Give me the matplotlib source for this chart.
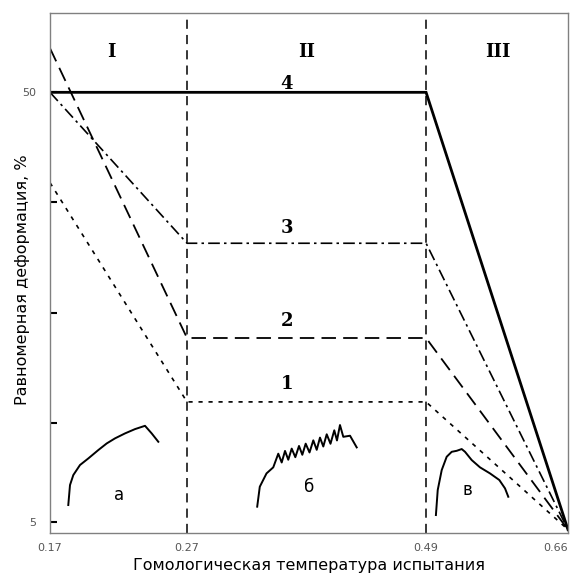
import matplotlib
matplotlib.use("Agg")
import matplotlib.pyplot as plt

# schematic axes: x runs 0..1 across the box, y in "levels" (4 = 50 %)
x_ticks = [0.0, 0.2645, 0.726, 1.0]
x_labels = ["0.17", "0.27", "0.49", "0.66"]
y_ticks = [0.1, 1, 2, 3, 4]
y_labels = ["5", "", "", "", "50"]

x_bounds = [0.2645, 0.726]

# four curves: left edge, end of region I, end of region II, right edge
curve_x = [0.0, 0.2645, 0.726, 1.0]
curve4 = [4.0, 4.0, 4.0, 0.03]
curve3 = [4.0, 2.63, 2.63, 0.03]
curve2 = [4.40, 1.77, 1.77, 0.03]
curve1 = [3.18, 1.19, 1.19, 0.03]

# stress-strain sketches
a_x = [0.0353, 0.0386, 0.045, 0.0579, 0.074, 0.0933, 0.1095, 0.1255, 0.1448, 0.1641, 0.1834, 0.1963, 0.2091]
a_y = [0.254, 0.435, 0.526, 0.617, 0.677, 0.753, 0.813, 0.859, 0.904, 0.943, 0.973, 0.904, 0.828]

b_x = [0.400, 0.405, 0.418, 0.431, 0.4407, 0.4473, 0.4537, 0.460, 0.4666, 0.4736, 0.4807, 0.4871,
       0.4936, 0.501, 0.5083, 0.5149, 0.5212, 0.5276, 0.5342, 0.5415, 0.5488, 0.554, 0.5598,
       0.5662, 0.5792, 0.5921]
b_y = [0.239, 0.420, 0.541, 0.596, 0.720, 0.640, 0.745, 0.665, 0.766, 0.688, 0.790, 0.710,
       0.811, 0.731, 0.841, 0.755, 0.866, 0.785, 0.896, 0.810, 0.932, 0.840, 0.980,
       0.873, 0.883, 0.777]

c_x = [0.745, 0.7485, 0.7562, 0.7658, 0.7755, 0.7851, 0.7948, 0.8012, 0.8141, 0.8301, 0.8494, 0.8674, 0.8784, 0.8847]
c_y = [0.163, 0.390, 0.571, 0.692, 0.737, 0.746, 0.762, 0.737, 0.662, 0.596, 0.541, 0.481, 0.405, 0.329]

fig = plt.figure(figsize=(5.75, 5.75), dpi=100)
ax = fig.add_axes([50 / 575, 42 / 575, 518 / 575, 520 / 575])
ax.set_xlim(0, 1)
ax.set_ylim(0, 4.72)

for xb in x_bounds:
    ax.axvline(xb, color="black", lw=1.1, dashes=(6, 4))

ax.plot(curve_x, curve4, color="black", lw=2.0, solid_joinstyle="miter")
ax.plot(curve_x, curve3, color="black", lw=1.2, dashes=(7, 2.5, 1.5, 2.5))
ax.plot(curve_x, curve2, color="black", lw=1.3, dashes=(8, 4))
ax.plot(curve_x, curve1, color="black", lw=1.2, dashes=(2.5, 3.5))

ax.plot(a_x, a_y, color="black", lw=1.4)
ax.plot(b_x, b_y, color="black", lw=1.4)
ax.plot(c_x, c_y, color="black", lw=1.4)

serif = dict(family="DejaVu Serif", fontweight="bold", fontsize=13, ha="center", va="center")
ax.text(0.4575, 4.08, "4", **serif)
ax.text(0.4575, 2.77, "3", **serif)
ax.text(0.4575, 1.92, "2", **serif)
ax.text(0.4575, 1.35, "1", **serif)
ax.text(0.118, 4.37, "I", **serif)
ax.text(0.496, 4.37, "II", **serif)
ax.text(0.865, 4.37, "III", **serif)

ax.text(0.133, 0.345, "а", fontsize=12, ha="center", va="center")
ax.text(0.500, 0.417, "б", fontsize=12, ha="center", va="center")
ax.text(0.805, 0.390, "в", fontsize=12, ha="center", va="center")

ax.set_xticks(x_ticks)
ax.set_xticklabels(x_labels)
ax.set_yticks(y_ticks)
ax.set_yticklabels(y_labels)
ax.tick_params(axis="x", length=0, labelsize=8, labelcolor="#555555", pad=7)
ax.tick_params(axis="y", direction="in", length=5, width=1.5, labelsize=8,
               labelcolor="#555555", pad=10)
ax.get_xticklabels()[-1].set_ha("right")
ax.get_xticklabels()[-1].set_x(1.0)

for s in ax.spines.values():
    s.set_color("#808080")
    s.set_linewidth(1.0)

ax.set_xlabel("Гомологическая температура испытания", fontsize=11.5)
ax.xaxis.set_label_coords(0.5, -0.062)
ax.xaxis.label.set_va("center")
ax.set_ylabel("Равномерная деформация, %", fontsize=11.5)
ax.yaxis.set_label_coords(-0.054, 0.487)
ax.yaxis.label.set_va("center")

fig.savefig("out.png", dpi=100)
